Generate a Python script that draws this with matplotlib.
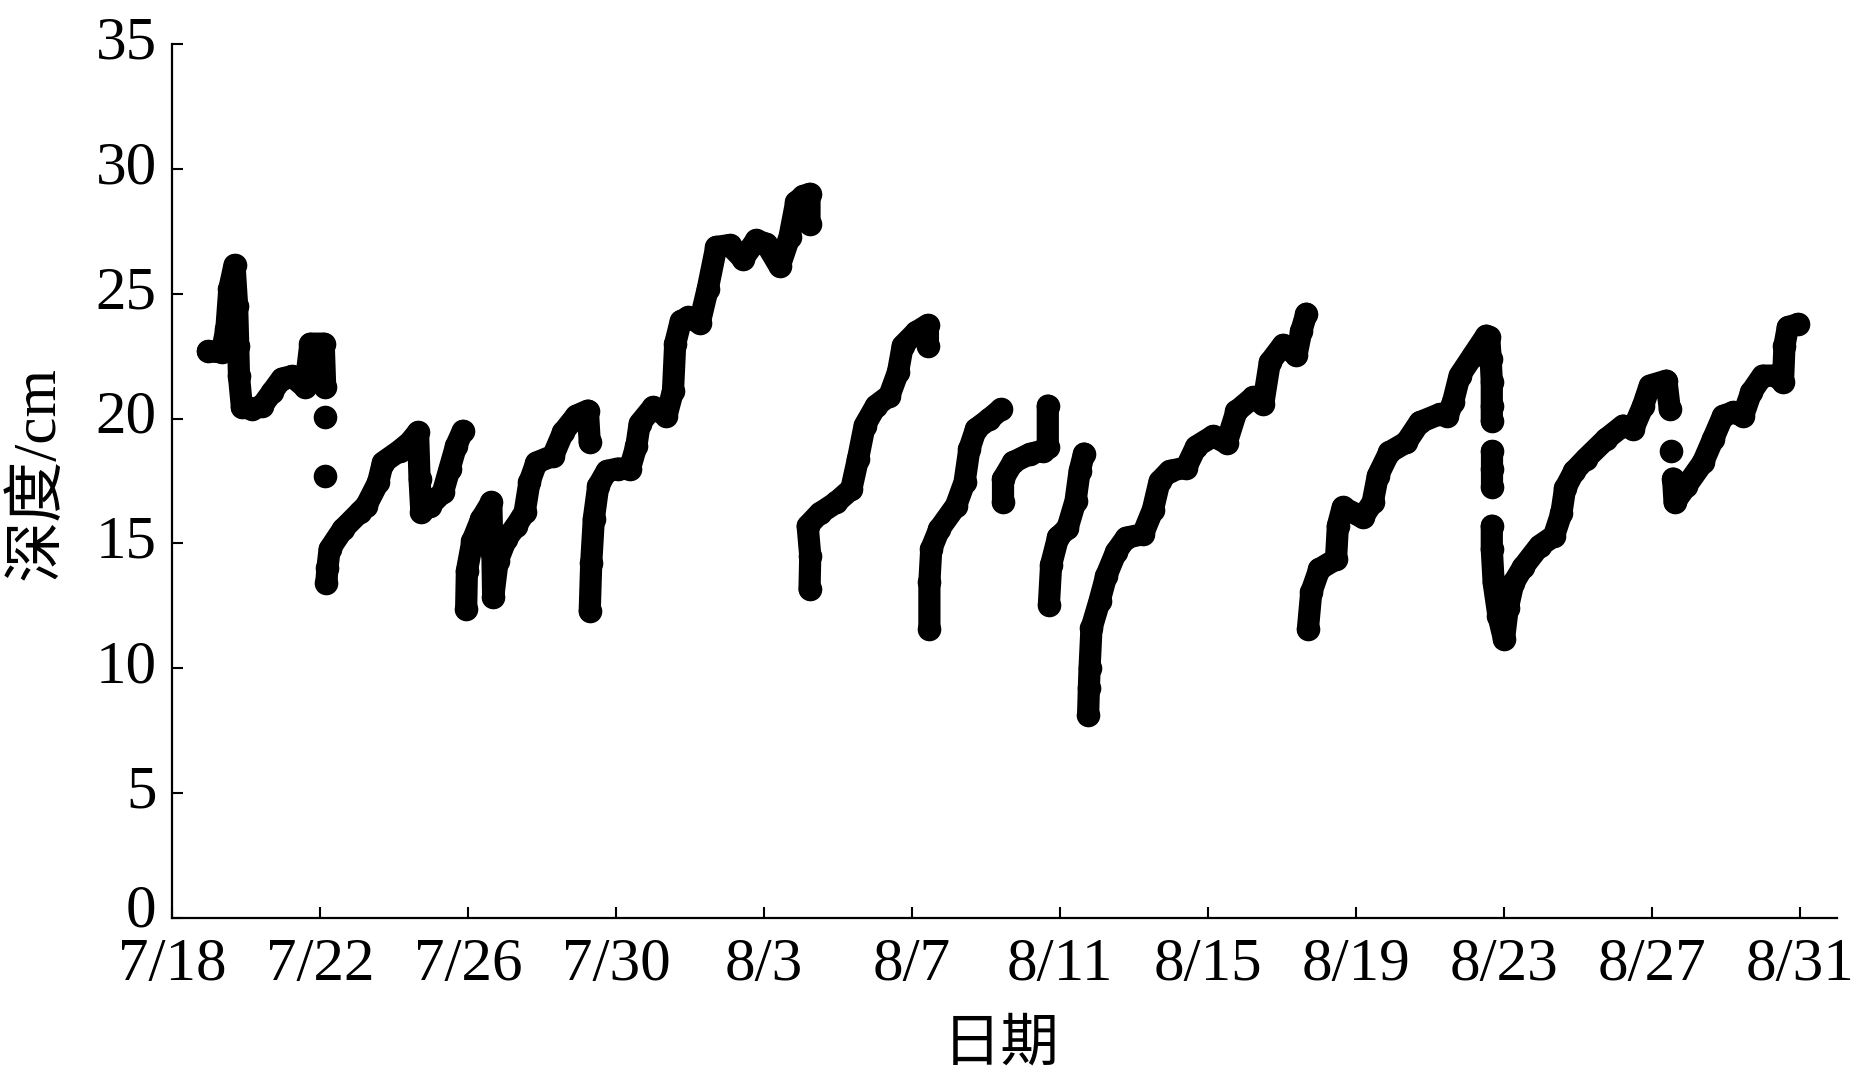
import matplotlib
matplotlib.use("Agg")
import matplotlib.pyplot as plt
from matplotlib.transforms import ScaledTranslation

plt.rcParams['font.family'] = ['Liberation Serif', 'Noto Sans CJK SC']

# x values: days since 7/18 00:00; y values: depth (cm)
tick_days = [0, 4, 8, 12, 16, 20, 24, 28, 32, 36, 40, 44]
tick_labels = ['7/18', '7/22', '7/26', '7/30', '8/3', '8/7', '8/11',
               '8/15', '8/19', '8/23', '8/27', '8/31']
y_ticks = [0, 5, 10, 15, 20, 25, 30, 35]

segA_day = [0.97, 1.35, 1.47, 1.55, 1.69, 1.76, 1.79, 1.81, 1.89, 2.16, 2.43,
            2.70, 2.97, 3.24, 3.60, 3.74, 4.10, 4.14]
segA_dep = [22.7, 22.65, 23.6, 25.2, 26.15, 24.5, 22.9, 21.7, 20.45, 20.38, 20.5,
            21.05, 21.6, 21.7, 21.25, 23.0, 23.0, 21.25]

dotsA_day = [4.14, 4.14]
dotsA_dep = [20.05, 17.7]

segB_day = [4.17, 4.20, 4.26, 4.62, 5.07, 5.25, 5.57, 5.70, 6.15, 6.42, 6.65,
            6.69, 6.74, 6.96, 7.32, 7.50, 7.68, 7.86]
segB_dep = [13.4, 14.0, 14.77, 15.57, 16.24, 16.51, 17.44, 18.24, 18.71, 19.04,
            19.45, 17.6, 16.24, 16.51, 17.04, 17.98, 18.91, 19.51]

segC_day = [7.95, 7.97, 8.12, 8.36, 8.63, 8.66, 8.68, 8.80, 9.03, 9.30, 9.53,
            9.66, 9.85, 10.30, 10.57, 10.93, 11.24, 11.29]
segC_dep = [12.37, 13.9, 15.1, 15.98, 16.64, 14.6, 12.84, 14.3, 15.17, 15.7,
            16.24, 17.45, 18.24, 18.51, 19.45, 20.12, 20.32, 19.05]

segD_day = [11.29, 11.33, 11.40, 11.52, 11.75, 12.05, 12.37, 12.55, 12.64, 13.0,
            13.36, 13.54, 13.60, 13.75, 13.95, 14.26, 14.48, 14.71, 15.07, 15.43,
            15.79, 16.06, 16.42, 16.69, 16.87, 17.05, 17.23, 17.23]
segD_dep = [12.3, 14.2, 15.98, 17.3, 17.9, 18.0, 17.97, 18.9, 19.8, 20.45,
            20.1, 21.1, 23.0, 23.9, 24.05, 23.83, 25.2, 26.87, 26.95, 26.4,
            27.14, 27.0, 26.1, 27.28, 28.66, 28.9, 29.0, 27.8]

segE_day = [17.23, 17.25, 17.18, 17.50, 17.95, 18.36, 18.54, 18.72, 19.03, 19.39,
            19.62, 19.75, 20.11, 20.43, 20.43]
segE_dep = [13.17, 14.5, 15.7, 16.2, 16.64, 17.18, 18.38, 19.72, 20.52, 20.92,
            21.85, 22.92, 23.46, 23.75, 22.92]

segF_day = [20.47, 20.47, 20.52, 20.74, 21.19, 21.42, 21.55, 21.73, 22.09, 22.41]
segF_dep = [11.57, 13.44, 14.78, 15.58, 16.51, 17.45, 18.78, 19.58, 19.98, 20.38]

segG_day = [22.46, 22.46, 22.73, 23.18, 23.54, 23.67, 23.67]
segG_dep = [16.65, 17.58, 18.25, 18.58, 18.72, 18.85, 20.52]

segH_day = [23.70, 23.76, 23.95, 24.20, 24.42, 24.53, 24.65]
segH_dep = [12.55, 14.15, 15.25, 15.6, 16.7, 17.9, 18.6]

segI_day = [24.76, 24.78, 24.80, 24.85, 25.07, 25.25, 25.52, 25.79, 26.24, 26.51,
            26.69, 26.96, 27.41, 27.68, 28.14, 28.50, 28.77, 29.22, 29.49, 29.67,
            30.03, 30.39, 30.52, 30.66]
segI_dep = [8.14, 9.2, 10.03, 11.6, 12.7, 13.7, 14.67, 15.23, 15.37, 16.35,
            17.48, 17.9, 18.04, 18.88, 19.3, 19.02, 20.29, 20.85, 20.57, 22.25,
            22.95, 22.53, 23.5, 24.2]

segJ_day = [30.70, 30.79, 31.01, 31.46, 31.51, 31.64, 32.18, 32.45, 32.59, 32.90,
            33.36, 33.72, 34.26, 34.47, 34.62, 34.80, 35.16, 35.52, 35.60, 35.64,
            35.67, 35.67, 35.67]
segJ_dep = [11.57, 13.04, 13.97, 14.37, 15.71, 16.44, 16.04, 16.64, 17.71, 18.65,
            19.05, 19.85, 20.18, 20.11, 20.65, 21.72, 22.52, 23.32, 23.25, 22.4,
            21.45, 20.5, 19.9]

dotsJ_day = [35.68, 35.68, 35.68]
dotsJ_dep = [18.7, 17.98, 17.24]

segK_day = [35.67, 35.67, 35.72, 35.85, 36.0, 36.1, 36.25, 36.51, 36.96, 37.35,
            37.55, 37.65, 37.9, 38.22, 38.76, 39.22, 39.49, 39.76, 39.94, 40.39,
            40.48]
segK_dep = [15.71, 14.77, 13.44, 12.1, 11.17, 12.4, 13.4, 14.04, 14.9, 15.3,
            16.2, 17.2, 17.9, 18.4, 19.18, 19.72, 19.58, 20.52, 21.32, 21.52,
            20.38]

dotsK_day = [40.52]
dotsK_dep = [18.7]

segL_day = [40.57, 40.61, 40.93, 41.38, 41.65, 41.92, 42.19, 42.46, 42.68, 42.99,
            43.36, 43.54, 43.58, 43.67, 43.95]
segL_dep = [17.6, 16.64, 17.31, 18.25, 19.18, 20.11, 20.25, 20.11, 21.05, 21.72,
            21.72, 21.45, 22.92, 23.65, 23.79]

segments = [(segA_day, segA_dep), (dotsA_day[:1], dotsA_dep[:1]),
            (dotsA_day[1:], dotsA_dep[1:]), (segB_day, segB_dep),
            (segC_day, segC_dep), (segD_day, segD_dep), (segE_day, segE_dep),
            (segF_day, segF_dep), (segG_day, segG_dep), (segH_day, segH_dep),
            (segI_day, segI_dep), (segJ_day, segJ_dep), (dotsJ_day, dotsJ_dep),
            (segK_day, segK_dep), (dotsK_day, dotsK_dep), (segL_day, segL_dep)]

fig = plt.figure(figsize=(18.64, 10.83), dpi=100)
ax = fig.add_axes([172 / 1864, 165 / 1083, 1665 / 1864, 874 / 1083])

LW = 16
for d, v in segments:
    ax.plot(d, v, color='black', lw=LW, solid_capstyle='round',
            solid_joinstyle='round', marker='o', ms=LW, mec='black', mfc='black')

ax.set_xlim(0, 45)
ax.set_ylim(0, 35)
ax.set_xticks(tick_days)
ax.set_xticklabels(tick_labels)
ax.set_yticks(y_ticks)

for s in ['top', 'right']:
    ax.spines[s].set_visible(False)
for s in ['left', 'bottom']:
    ax.spines[s].set_linewidth(1.6)

ax.tick_params(axis='both', direction='in', length=8, width=1.5, labelsize=44)
ax.tick_params(axis='y', pad=11)
ax.tick_params(axis='x', pad=14)

fig.canvas.draw()
for lab in ax.get_yticklabels():
    up = 9 if lab.get_text() == '0' else 5
    lab.set_transform(lab.get_transform() +
                      ScaledTranslation(0, up / 72, fig.dpi_scale_trans))

ax.set_xlabel('日期', fontsize=42, va='center', ha='center')
ax.xaxis.set_label_coords(0.498, -0.1465)
ax.set_ylabel('深度/cm', fontsize=44, va='center', ha='center')
ax.yaxis.set_label_coords(-0.0805, 0.509)

fig.savefig('out.png', dpi=100, facecolor='white')
